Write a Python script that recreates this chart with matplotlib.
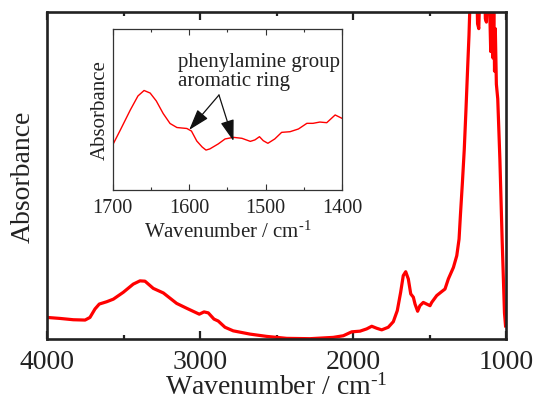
import matplotlib
matplotlib.use('Agg')
import matplotlib.pyplot as plt
from matplotlib.ticker import MultipleLocator, NullLocator

plt.rcParams['font.family'] = ['Liberation Serif', 'DejaVu Serif']
plt.rcParams['mathtext.fontset'] = 'custom'
plt.rcParams['mathtext.rm'] = 'Liberation Serif'
plt.rcParams['mathtext.it'] = 'Liberation Serif:italic'

# main FTIR spectrum (wavenumber / cm-1, absorbance in arbitrary units)
wn_main = [4000, 3917, 3830, 3753, 3721, 3688, 3660, 3612, 3568, 3503,
           3438, 3394, 3361, 3307, 3241, 3154, 3088, 3006, 2975, 2947,
           2910, 2882, 2838, 2784, 2674, 2565, 2434, 2282, 2130, 2064,
           2009, 1955, 1911, 1878, 1846, 1813, 1770, 1737, 1711, 1689,
           1672, 1656, 1639, 1623, 1606, 1595, 1578, 1563, 1541, 1519,
           1497, 1486, 1453, 1421, 1399, 1377, 1344, 1322, 1307, 1298,
           1285, 1273, 1262, 1250, 1242, 1236, 1230, 1200, 1190, 1186,
           1178, 1172, 1160, 1140, 1135, 1128, 1122, 1110, 1100, 1095,
           1085, 1080, 1075, 1070, 1063, 1054, 1040, 1025, 1010, 1003]
abs_main = [0.066, 0.063, 0.059, 0.058, 0.066, 0.092, 0.107, 0.114, 0.122, 0.143,
            0.168, 0.178, 0.177, 0.155, 0.141, 0.109, 0.094, 0.076, 0.083, 0.080,
            0.061, 0.055, 0.036, 0.025, 0.015, 0.008, 0.002, 0.001, 0.005, 0.010,
            0.022, 0.024, 0.031, 0.039, 0.033, 0.028, 0.036, 0.053, 0.087, 0.143,
            0.194, 0.206, 0.184, 0.138, 0.128, 0.107, 0.085, 0.102, 0.112, 0.107,
            0.102, 0.112, 0.133, 0.145, 0.153, 0.184, 0.219, 0.255, 0.306, 0.380,
            0.480, 0.580, 0.700, 0.840, 0.930, 1.020, 1.080, 1.100, 1.050, 0.965,
            0.950, 1.050, 1.100, 1.080, 0.980, 0.970, 1.060, 1.080, 0.880, 1.050,
            0.860, 1.030, 0.820, 0.950, 0.780, 0.735, 0.550, 0.300, 0.080, 0.040]

# inset: zoom on 1700-1400 cm-1
wn_inset = [1700, 1690, 1677, 1667, 1659, 1651, 1643, 1634, 1625, 1616,
            1603, 1597, 1590, 1583, 1578, 1573, 1562, 1553, 1542, 1531,
            1520, 1514, 1508, 1503, 1497, 1488, 1479, 1468, 1457, 1446,
            1438, 1429, 1420, 1409, 1400]
abs_inset = [0.280, 0.373, 0.497, 0.584, 0.618, 0.602, 0.553, 0.475, 0.413, 0.388,
             0.382, 0.366, 0.304, 0.267, 0.248, 0.255, 0.286, 0.317, 0.327, 0.321,
             0.302, 0.311, 0.331, 0.306, 0.290, 0.317, 0.358, 0.362, 0.379, 0.414,
             0.414, 0.422, 0.418, 0.466, 0.445]

labels = ["phenylamine group", "aromatic ring"]
arrow_tail = (1561, 0.59)
arrow_heads = [(1600, 0.373), (1542, 0.304)]

xlab = 'Wavenumber / cm$^{\\text{-1}}$'

fig = plt.figure(figsize=(5.35, 4.02), dpi=100)
ax = fig.add_axes([0.0884, 0.1542, 0.8574, 0.8127])

ax.plot(wn_main, abs_main, color='#ff0000', lw=2.3, solid_joinstyle='round')
ax.set_xlim(4000, 1000)
ax.set_ylim(0, 1)
ax.xaxis.set_major_locator(MultipleLocator(1000))
ax.xaxis.set_minor_locator(MultipleLocator(500))
ax.yaxis.set_major_locator(NullLocator())
ax.tick_params(axis='x', which='both', direction='in', top=True, bottom=True,
               labelsize=20, pad=7, color='#222222', width=1.6, labelcolor='#222222')
ax.tick_params(axis='x', which='major', length=6)
ax.tick_params(axis='x', which='minor', length=3)
for sp in ax.spines.values():
    sp.set_linewidth(1.9)
    sp.set_color('#222222')
ax.set_xlabel(xlab, fontsize=20, color='#222222')
ax.set_ylabel('Absorbance', fontsize=20, color='#222222')
ax.xaxis.set_label_coords(0.5, -0.104)
ax.yaxis.set_label_coords(-0.025, 0.5)

# inset
ax_in = fig.add_axes([0.2107, 0.5249, 0.4286, 0.4005])
ax_in.plot(wn_inset, abs_inset, color='#ff0000', lw=1.0)
ax_in.set_xlim(1700, 1400)
ax_in.set_ylim(0, 1)
ax_in.xaxis.set_major_locator(MultipleLocator(100))
ax_in.xaxis.set_minor_locator(MultipleLocator(50))
ax_in.yaxis.set_major_locator(NullLocator())
ax_in.tick_params(axis='x', which='both', direction='in', top=True, bottom=True,
                  labelsize=14.5, pad=6, color='#333333', width=0.8, labelcolor='#222222')
ax_in.tick_params(axis='x', which='major', length=4)
ax_in.tick_params(axis='x', which='minor', length=2)
for sp in ax_in.spines.values():
    sp.set_linewidth(0.9)
    sp.set_color('#333333')
ax_in.set_xlabel(xlab, fontsize=15, labelpad=2, color='#222222')
ax_in.set_ylabel('Absorbance', fontsize=15, labelpad=2, color='#222222')

ax_in.text(0.2845, 0.772, labels[0], transform=ax_in.transAxes, fontsize=15,
           va='baseline', ha='left', color='#222222', clip_on=False)
ax_in.text(0.2845, 0.654, labels[1], transform=ax_in.transAxes, fontsize=15,
           va='baseline', ha='left', color='#222222', clip_on=False)
for head in arrow_heads:
    ax_in.annotate('', xy=head, xytext=arrow_tail,
                   arrowprops=dict(arrowstyle='-|>,head_length=1.3,head_width=0.42',
                                   color='#111111', lw=0.9, shrinkA=0, shrinkB=0))

fig.savefig('out.png', dpi=100)
